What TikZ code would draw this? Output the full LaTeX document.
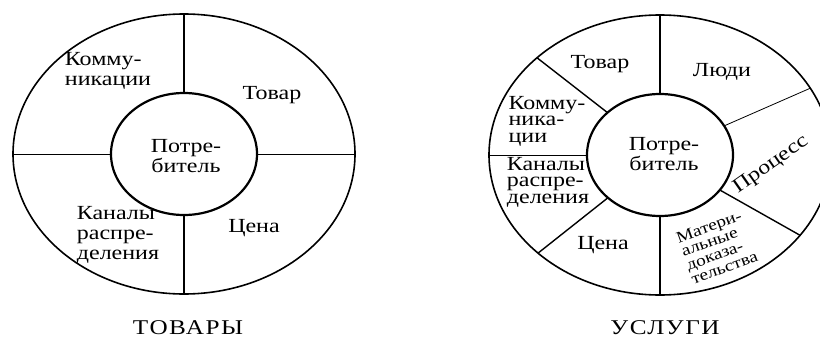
\documentclass[tikz,border=0pt]{standalone}
\usepackage{fontspec}
\setmainfont{Liberation Serif}[FakeStretch=1.2]
\newfontfamily\captfont{Liberation Serif}[FakeStretch=1.2, LetterSpace=7]
\usetikzlibrary{positioning}
\tikzset{
  ring/.style={line width=1.6pt},
  hub/.style={line width=2.2pt},
  bigspoke/.style={line width=2pt},
  spoke/.style={line width=1.4pt},
  thinspoke/.style={line width=0.8pt},
  lbl/.style={inner sep=0pt, align=left, font=\fontsize{20}{20}\selectfont},
  tightlbl/.style={inner sep=0pt, align=left, font=\fontsize{20}{16.5}\selectfont},
  smalllbl/.style={inner sep=0pt, align=left, font=\fontsize{16}{14.5}\selectfont},
  capt/.style={inner sep=0pt, font=\captfont\fontsize{21}{22}\selectfont}
}

\begin{document}
\begin{tikzpicture}[x=1pt,y=1pt]
  \useasboundingbox (0,0) rectangle (820,-338);
  % Goods: outer ring and consumer hub
  \draw[ring] (184,-154) ellipse [x radius=171, y radius=140];
  \draw[hub] (184,-154) ellipse [x radius=73, y radius=61];
  \foreach \a/\w in {90/bigspoke, 270/bigspoke, 0/thinspoke, 180/thinspoke}
    \draw[\w] ({184+73*cos(\a)},{-154+61*sin(\a)}) -- ({184+171*cos(\a)},{-154+140*sin(\a)});
  \node[lbl] (komm1) at (108,-71) {Комму-\\никации};
  \node[lbl] (tovar1) at (272,-95) {Товар};
  \node[lbl, align=center] (potr1) at (186,-156) {Потре-\\битель};
  \node[lbl] (cena1) at (254,-228) {Цена};
  \node[lbl] (kanal1) at (118,-235) {Каналы\\распре-\\деления};
  \node[capt] (goods) at (188,-328) {ТОВАРЫ};
  % Services: seven sectors
  \draw[ring] (660,-155) ellipse [x radius=171, y radius=140];
  \draw[hub] (660,-155) ellipse [x radius=73, y radius=61];
  \foreach \a/\w in {90/bigspoke, 270/bigspoke, 136/spoke, 224.5/spoke, 325/spoke, 180/thinspoke, 28.5/thinspoke}
    \draw[\w] ({660+73*cos(\a)},{-155+61*sin(\a)}) -- ({660+171*cos(\a)},{-155+140*sin(\a)});
  \node[lbl] (tovar2) at (600,-64) {Товар};
  \node[tightlbl] (komm2) at (547,-121) {Комму-\\ника-\\ции};
  \node[tightlbl] (kanal2) at (548,-182) {Каналы\\распре-\\деления};
  \node[lbl] (cena2) at (603,-245) {Цена};
  \node[lbl] (ludi) at (722,-72) {Люди};
  \node[lbl, align=center] (potr2) at (664,-154) {Потре-\\битель};
  \node[lbl, rotate=35] (process) at (771,-165) {Процесс};
  \node[smalllbl, rotate=20] (mater) at (717,-247) {Матери-\\альные\\доказа-\\тельства};
  \node[capt] (services) at (665,-328) {УСЛУГИ};
\end{tikzpicture}
\end{document}
